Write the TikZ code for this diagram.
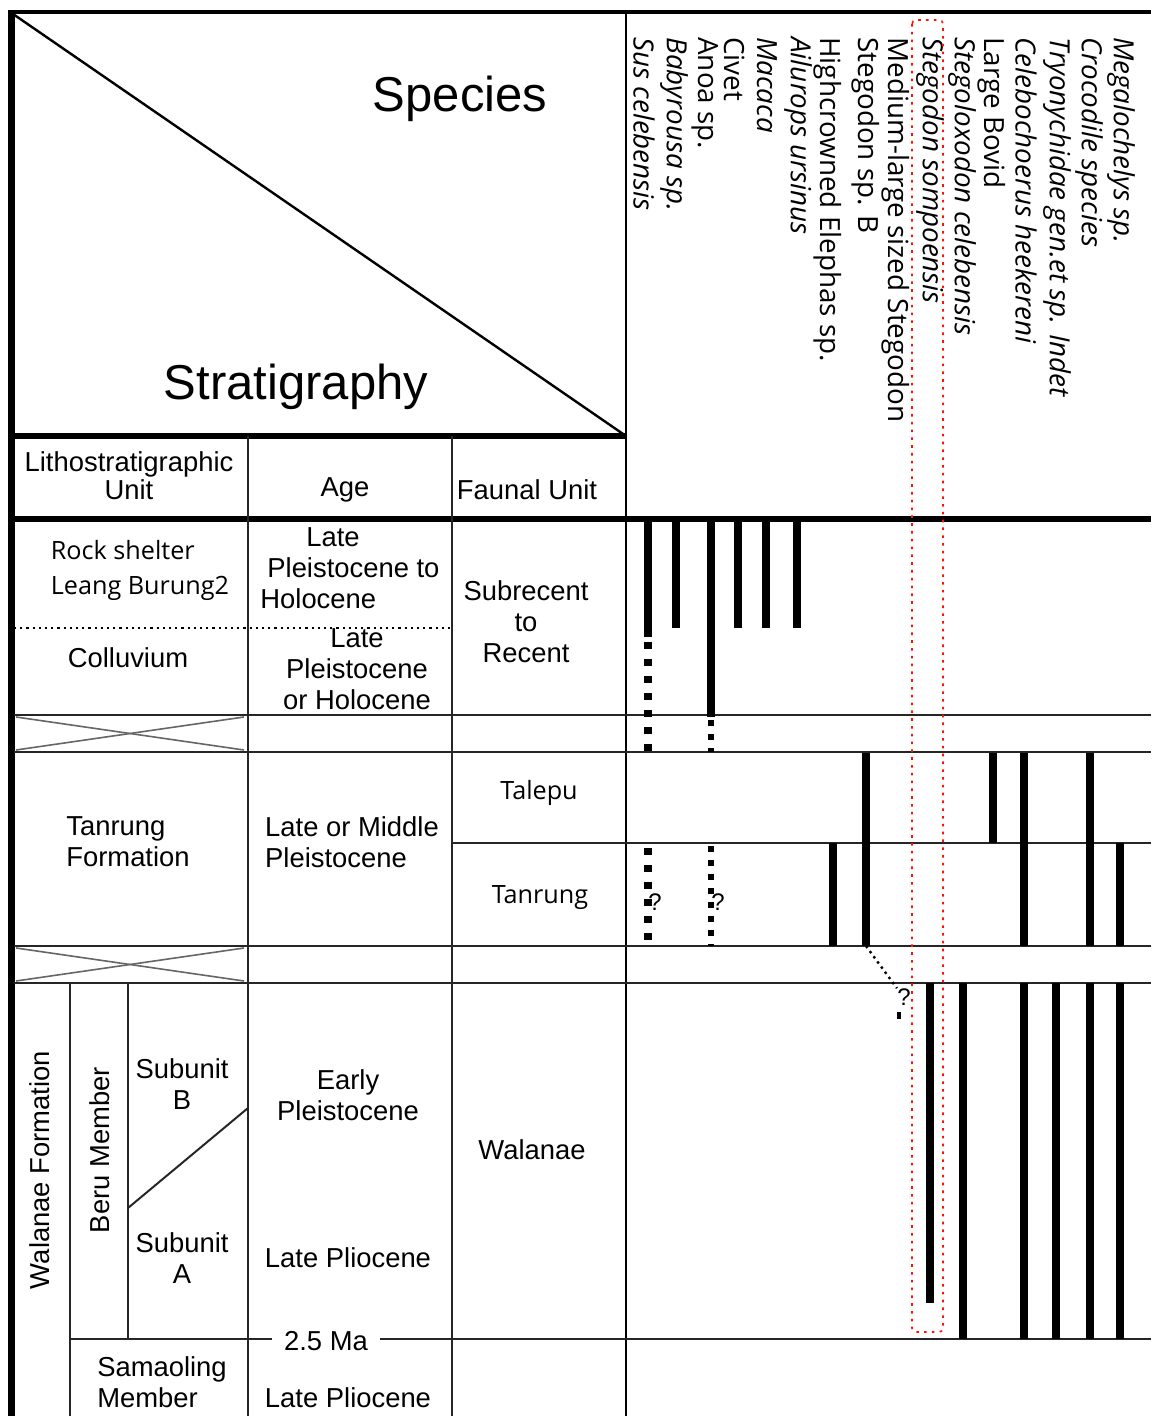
\documentclass[tikz,border=0pt]{standalone}
\usepackage{fontspec}
\setmainfont{Liberation Sans}
\newfontfamily\humfont{Open Sans}
\usetikzlibrary{positioning}

\tikzset{
  txt/.style={font=\fontsize{13.7}{15.5}\selectfont, align=center, inner sep=0pt},
  htxt/.style={font=\humfont\fontsize{12.6}{17.5}\selectfont, align=left, inner sep=0pt},
  big/.style={font=\fontsize{24.5}{28}\selectfont, inner sep=0pt},
  spname/.style={rotate=-90, anchor=west, inner sep=0pt, font=\humfont\fontsize{13.9}{14}\selectfont},
  qmark/.style={font=\fontsize{12}{12}\selectfont, inner sep=0pt},
  thin/.style={line width=1pt, black!85},
  heavy/.style={line width=2.6pt},
  bar/.style={line width=4pt},
  dbar/.style={line width=3.6pt, dash pattern=on 3.5pt off 5pt},
  dotbar/.style={line width=2.6pt, dash pattern=on 2.8pt off 4.2pt},
  cross/.style={line width=0.8pt, black!60},
  redbox/.style={draw=red!85!orange, line width=0.8pt, dash pattern=on 1.3pt off 2.6pt, rounded corners=2pt},
}

\begin{document}
\begin{tikzpicture}[x=0.5pt,y=-0.5pt]
\useasboundingbox[fill=white] (0,0) rectangle (1151,1416);

% frame and header
\draw[line width=2pt] (9,12) -- (1151,12);
\draw[line width=3.5pt] (11,10) -- (11,1416);
\draw[line width=1.2pt] (13,14) -- (626,436);
\draw[line width=1.3pt] (626,12) -- (626,1416);
\draw[heavy] (11,436) -- (626,436);
\draw[heavy] (11,519) -- (1151,519);
\node[big] (species) at (460,99) {Species};
\node[big] (strat) at (296,387) {Stratigraphy};

% column heads
\node[txt, font=\fontsize{13.7}{14}\selectfont] (litho) at (129,476) {Lithostratigraphic\\Unit};
\node[txt] (age) at (345,490) {Age};
\node[txt] (faunal) at (527,490) {Faunal Unit};

% table rules
\draw[thin] (248,436) -- (248,1416);
\draw[thin] (452,436) -- (452,1416);
\draw[line width=1.1pt, dotted] (14,628) -- (452,628);
\draw[thin] (14,715) -- (1151,715);
\draw[thin] (14,752) -- (1151,752);
\draw[thin] (452,843) -- (1151,843);
\draw[thin] (14,946) -- (1151,946);
\draw[thin] (14,983) -- (1151,983);
\draw[thin] (70,983) -- (70,1416);
\draw[thin] (128,983) -- (128,1339);
\draw[thin] (128,1208) -- (248,1108);
\draw[thin] (70,1339) -- (1151,1339);

% hiatus crosses
\draw[cross] (16,717) -- (244,750);
\draw[cross] (16,750) -- (244,717);
\draw[cross] (16,948) -- (244,981);
\draw[cross] (16,981) -- (244,948);

% unit texts
\node[htxt] (rock) at (140,570) {Rock shelter\\Leang Burung2};
\node[txt] (coll) at (128,658) {Colluvium};
\node[txt, align=left, anchor=west] (ageA) at (260,568) {\hspace*{23pt}Late\\\hspace*{3.5pt}Pleistocene to\\Holocene};
\node[txt] (ageB) at (357,669) {Late\\Pleistocene\\or Holocene};
\node[txt] (subrec) at (526,622) {Subrecent\\to\\Recent};
\node[txt, align=left] (tanform) at (128,842) {Tanrung\\Formation};
\node[txt, align=left] (ageC) at (352,842) {Late or Middle\\Pleistocene};
\node[htxt] (talepu) at (539,793) {Talepu};
\node[htxt] (tanrung) at (540,898) {Tanrung};
\node[txt, rotate=90] (walform) at (40,1170) {Walanae Formation};
\node[txt, rotate=90] (beru) at (100,1150) {Beru Member};
\node[txt] (subB) at (182,1084) {Subunit\\B};
\node[txt] (subA) at (182,1258) {Subunit\\A};
\node[txt] (early) at (348,1095) {Early\\Pleistocene};
\node[txt] (lplioA) at (348,1258) {Late Pliocene};
\node[txt] (walanae) at (532,1150) {Walanae};
\node[txt, fill=white, inner xsep=6pt] (ma) at (326,1341) {2.5 Ma};
\node[txt, align=left] (samao) at (162,1382) {Samaoling\\Member};
\node[txt] (lplioB) at (348,1398) {Late Pliocene};

% species
\node[spname] (sus) at (644,37) {\itshape Sus celebensis};
\node[spname] (baby) at (674,37) {\itshape Babyrousa sp.};
\node[spname] (anoa) at (705,37) {Anoa sp.};
\node[spname] (civet) at (735,37) {Civet};
\node[spname] (macaca) at (767,37) {\itshape Macaca};
\node[spname] (ailu) at (798,37) {\itshape Ailurops ursinus};
\node[spname] (eleph) at (828,37) {Highcrowned Elephas sp.};
\node[spname] (stegb) at (866,37) {Stegodon sp. B};
\node[spname] (medst) at (896,37) {Medium-large sized Stegodon};
\node[spname] (sompo) at (930,37) {\itshape Stegodon sompoensis};
\node[spname] (stlox) at (962,37) {\itshape Stegoloxodon celebensis};
\node[spname] (bovid) at (992,37) {Large Bovid};
\node[spname] (celeb) at (1026,37) {\itshape Celebochoerus heekereni};
\node[spname] (tryon) at (1057,37) {\itshape Tryonychidae gen.et sp. Indet};
\node[spname] (croc) at (1089,37) {\itshape Crocodile species};
\node[spname] (megal) at (1121,37) {\itshape Megalochelys sp.};

% ranges, recent
\draw[bar] (648,521) -- (648,637);
\draw[dbar] (648,642) -- (648,752);
\draw[bar] (676,521) -- (676,628);
\draw[bar] (711,521) -- (711,717);
\draw[dotbar] (711,720) -- (711,752);
\draw[bar] (738,521) -- (738,628);
\draw[bar] (766,521) -- (766,628);
\draw[bar] (797,521) -- (797,628);

% ranges, Tanrung Formation
\draw[dbar] (648,848) -- (648,946);
\draw[dotbar] (711,846) -- (711,946);
\node[qmark] (q1) at (655,902) {?};
\node[qmark] (q2) at (718,902) {?};
\draw[bar] (833,843) -- (833,946);
\draw[bar] (866,753) -- (866,946);
\draw[bar] (993,753) -- (993,843);
\draw[bar] (1024,753) -- (1024,946);
\draw[bar] (1090,753) -- (1090,946);
\draw[bar] (1120,843) -- (1120,946);
\node[qmark] (q3) at (904,997) {?};
\draw[line width=1.2pt, dotted] (866,946) -- (q3.north west);
\draw[line width=1.6pt] (899,1012) -- (899,1019);

% ranges, Walanae Formation
\draw[bar] (930,983) -- (930,1303);
\draw[bar] (963,983) -- (963,1339);
\draw[bar] (1024,983) -- (1024,1339);
\draw[bar] (1056,983) -- (1056,1339);
\draw[bar] (1090,983) -- (1090,1339);
\draw[bar] (1120,983) -- (1120,1339);

% highlight
\draw[redbox] (912,20) rectangle (943,1332);
\end{tikzpicture}
\end{document}
